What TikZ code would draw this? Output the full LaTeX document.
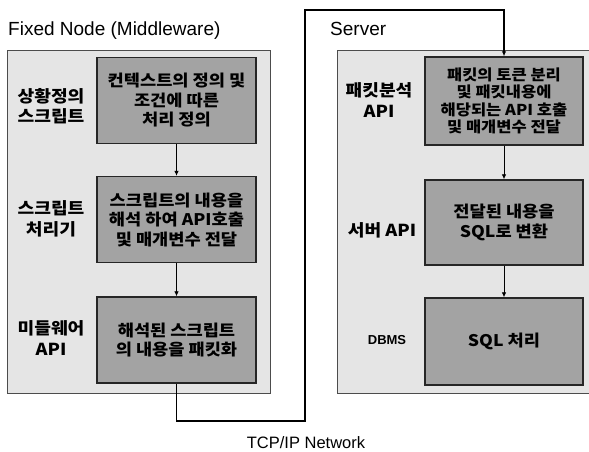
\documentclass[tikz,border=0pt]{standalone}
\usepackage{fontspec}
\setmainfont{Liberation Sans}
\newfontfamily\kr[FakeStretch=1.1]{Noto Sans CJK KR}
\usetikzlibrary{positioning,arrows.meta}

\definecolor{panelgray}{gray}{0.90}
\definecolor{stagegray}{gray}{0.64}

\begin{document}
\begin{tikzpicture}[x=1pt,y=-1pt,
			panel/.style={draw=black!70, fill=panelgray, line width=0.9pt},
			stage/.style={rectangle, draw=black!85, fill=stagegray, line width=1.4pt, minimum width=159pt, minimum height=86pt, align=center, inner sep=2pt, font=\kr\bfseries\fontsize{16}{19.5}\selectfont},
			role/.style={align=center, font=\kr\bfseries\fontsize{16.5}{20.5}\selectfont},
			heading/.style={anchor=base west, inner sep=0pt, font=\fontsize{19}{22}\selectfont},
			link/.style={line width=0.8pt, -{Latex[length=5pt,width=4.5pt]}},
			wire/.style={line width=1.6pt, -{Latex[length=5pt,width=4.5pt]}},
			]
			\useasboundingbox (0,0) rectangle (589,452);
			\clip (0,0) rectangle (589,452);

			%Panels
				\draw[panel] (7,50) rectangle (270,393);
				\draw[panel] (337,50) rectangle (600,393);

			%Nodes
				\node[heading]		(fixed-title)	at (8,36)		{Fixed Node (Middleware)};
				\node[heading]		(server-title)	at (330,36)		{Server};
				\node[heading, anchor=base, font=\fontsize{16.5}{19}\selectfont]	(network)	at (306,448)	{TCP/IP Network};

				\node[role]		(role-script)	at (51,106)		{상황정의\\스크립트};
				\node[role]		(role-parser)	at (51,219)		{스크립트\\처리기};
				\node[role]		(role-mw)		at (51,338)		{미들웨어\\API};
				\node[stage]	(script)		at (176.5,100.5)	{컨텍스트의 정의 및\\조건에 따른\\처리 정의};
				\node[stage]	(parse)			at (176.5,219.5)	{스크립트의 내용을\\해석 하여 API호출\\및 매개변수 전달};
				\node[stage]	(packet)		at (176.5,340)		{해석된 스크립트\\의 내용을 패킷화};

				\node[role]		(role-token)	at (379,100)	{패킷분석\\API};
				\node[role]		(role-server)	at (382,230)	{서버 API};
				\node[role, font=\bfseries\fontsize{13}{15}\selectfont]	(role-db)	at (387,340)	{DBMS};
				\node[stage, minimum width=158pt, minimum height=88pt, font=\kr\bfseries\fontsize{15}{17.5}\selectfont]
								(token)			at (504,101)	{패킷의 토큰 분리\\및 패킷내용에\\해당되는 API 호출\\및 매개변수 전달};
				\node[stage, minimum width=158pt, minimum height=85pt]	(convert)	at (504,222.5)	{전달된 내용을\\SQL로 변환};
				\node[stage, minimum width=158pt, minimum height=87pt]	(sql)		at (504,341.5)	{SQL 처리};

				\coordinate (net-low)	at (305,421);
				\coordinate (net-high)	at (305,10);

			%Lines
				\draw[link] (script) -- (parse);
				\draw[link] (parse) -- (packet);
				\draw[link] (token) -- (convert);
				\draw[link] (convert) -- (sql);
				\draw[wire] (packet.south) |- (net-low) -- (net-high) -| (token.north);
		\end{tikzpicture}
\end{document}
